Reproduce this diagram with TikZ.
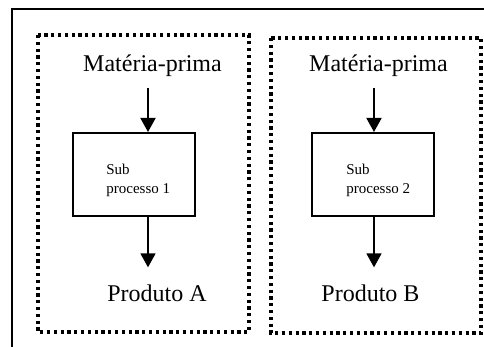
\documentclass[tikz,border=0pt]{standalone}
\usepackage{fontspec}
\setmainfont{Liberation Serif}
\usetikzlibrary{arrows.meta}
\tikzset{>={Triangle[length=7pt,width=7.5pt]},
  flow/.style={->, line width=0.85pt},
  area/.style={line width=1.8pt, dash pattern=on 1.6pt off 1.8pt},
  itemtext/.style={font=\fontsize{12}{14}\selectfont, inner sep=5pt, anchor=base},
  subbox/.style={draw, line width=1pt, minimum width=61pt, minimum height=41.5pt},
  subtext/.style={font=\fontsize{7.5}{9.5}\selectfont, align=left, inner sep=0pt, anchor=north west},
}

\begin{document}
\begin{tikzpicture}[x=0.5pt, y=-0.5pt]
        \useasboundingbox (0,0) rectangle (484,347);
        \draw[line width=1pt] (484,9) -- (12,9) -- (12,347);
        \draw[area] (38,35) rectangle (249,332);
        \draw[area] (271,38) rectangle (481,333);

        \node[itemtext] (mat1) at (152.5,72) {Matéria-prima};
        \node[subbox] (sub1) at (134,174.5) {};
        \node[subtext] (txt1) at (106,164) {Sub\\processo 1};
        \node[itemtext] (prodA) at (157,302) {Produto A};

        \node[itemtext] (mat2) at (378.5,72) {Matéria-prima};
        \node[subbox] (sub2) at (373.5,174.5) {};
        \node[subtext] (txt2) at (346,164) {Sub\\processo 2};
        \node[itemtext] (prodB) at (370.5,302) {Produto B};

        \coordinate (a1) at (148,0);
        \coordinate (a2) at (374,0);
        \draw[flow] (mat1.south -| a1) -- (sub1.north -| a1);
        \draw[flow, shorten >=3.8pt] (sub1.south -| a1) -- (prodA.north -| a1);
        \draw[flow] (mat2.south -| a2) -- (sub2.north -| a2);
        \draw[flow, shorten >=3.8pt] (sub2.south -| a2) -- (prodB.north -| a2);
\end{tikzpicture}
\end{document}
